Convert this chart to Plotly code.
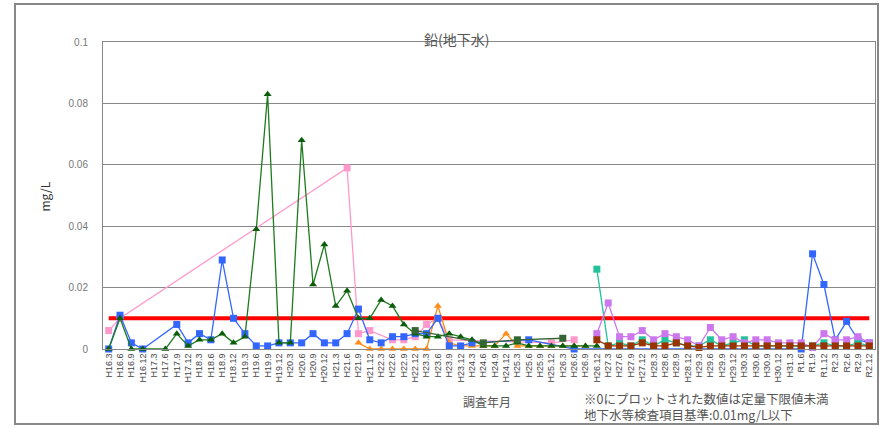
import plotly.graph_objects as go

# ---- categories (quarterly survey months) ----
months = []
for y in range(16, 31):
    for m in (3, 6, 9, 12):
        months.append(f"H{y}.{m}")
months.append("H31.3")
months += ["R1.6", "R1.9", "R1.12", "R2.3", "R2.6", "R2.9", "R2.12"]
N = len(months)

N_ = None
# ---- series values (mg/L) ----
green_tri = [0, 0.010, 0, 0, N_, 0, 0.005, 0.001, 0.003, 0.003,
             0.005, 0.002, 0.004, 0.039, 0.083, 0.002, 0.002, 0.068, 0.021, 0.034,
             0.014, 0.019, 0.010, 0.010, 0.016, 0.014, 0.008, 0.005, 0.004, 0.004,
             0.005, 0.004, 0.003, 0.001, 0.001, 0.001, 0.002, 0.001, 0.001, 0.001,
             0.001, 0.001, 0.001, 0.001] + [N_] * 24

blue_sq = [0, 0.011, 0.002, 0, N_, N_, 0.008, 0.002, 0.005, 0.003,
           0.029, 0.010, 0.005, 0.001, 0.001, 0.002, 0.002, 0.002, 0.005, 0.002,
           0.002, 0.005, 0.013, 0.003, 0.002, 0.004, 0.004, 0.005, 0.005, 0.010,
           0.001, 0.001, 0.002, N_, N_, N_, N_, 0.003, N_, N_,
           N_, 0, N_, N_, N_, N_, N_, N_, N_, N_,
           N_, N_, N_, N_, N_, N_, N_, N_, N_, N_,
           N_, 0, 0.031, 0.021, 0.003, 0.009, 0.003, 0.002]

pink_sq = [0.006, 0.010] + [N_] * 19 + [0.059, 0.005, 0.006, N_, 0.003, 0.003, 0.004, 0.008, 0.010,
           0.003, N_, N_, N_, N_, N_, N_, N_, N_, 0.002,
           N_, 0.003] + [N_] * 26

orange_tri = [N_] * 22 + [0.002, 0, 0, 0, 0, 0, 0, 0.014,
              0.002, 0.001, 0.001, 0.001, 0.001, 0.005, 0.001, 0.001, 0.001, 0.001,
              0.001, 0.001, 0.001] + [N_] * 25

teal_sq = [N_] * 43 + [0.026, 0.001, 0.002, 0.001, 0.003, 0.001, 0.003,
           0.002, 0.001, 0.001, 0.003, 0.001, 0.002, 0.003, 0.001, 0.001, 0.001,
           0.001, 0.001, 0.001, 0.002, 0.001, 0.001, 0.002, 0.001]

violet_sq = [N_] * 43 + [0.005, 0.015, 0.004, 0.004, 0.006, 0.003, 0.005,
             0.004, 0.003, 0.001, 0.007, 0.003, 0.004, 0.002, 0.003, 0.003, 0.002,
             0.002, 0.002, 0.0005, 0.005, 0.003, 0.003, 0.004, 0.002]

darkred_sq = [N_] * 43 + [0.003, 0.001, 0.001, 0.001, 0.002, 0.001, 0.001,
              0.002, 0.001, 0.0005, 0.001, 0.001, 0.001, 0.001, 0.001, 0.001, 0.001,
              0.001, 0.001, 0.001, 0.001, 0.001, 0.001, 0.001, 0.001]

darkgreen_sq = [N_] * 27 + [0.006] + [N_] * 5 + [0.002, N_, N_, 0.003, N_, N_, N_, 0.0035] + [N_] * 27

standard = [0.01] * N

series = [
    (pink_sq, "#FF99CC", "square", "#FF99CC"),
    (orange_tri, "#FF8C1A", "triangle-up", "#FF8C1A"),
    (blue_sq, "#3366FF", "square", "#3366FF"),
    (green_tri, "#0B5D0B", "triangle-up", "#1E7B1E"),
    (darkgreen_sq, "#336633", "square", "#336633"),
    (teal_sq, "#22C39A", "square", "#22C39A"),
    (violet_sq, "#CC77EE", "square", "#CC77EE"),
    (darkred_sq, "#993300", "square", "#993300"),
]

fig = go.Figure()
fig.add_trace(go.Scatter(x=months, y=standard, mode="lines",
                         line=dict(color="#FF0000", width=4), hoverinfo="skip"))
for vals, mcol, sym, lcol in series:
    fig.add_trace(go.Scatter(
        x=months, y=vals, mode="lines+markers", connectgaps=True, cliponaxis=False,
        line=dict(color=lcol, width=1.3),
        marker=dict(symbol=sym, size=7, color=mcol),
    ))

L, R, T, B = 103, 875, 42, 349

def px2px(xp):
    return (xp - L) / (R - L)

def py2py(yp):
    return (B - yp) / (B - T)

txt = "#555555"
fig.update_layout(
    width=880, height=428,
    margin=dict(l=L, r=880 - R, t=T, b=428 - B),
    paper_bgcolor="white", plot_bgcolor="white",
    showlegend=False,
    font=dict(family="Noto Sans CJK JP, Liberation Sans", color=txt),
    xaxis=dict(type="category", tickmode="array", tickvals=months, ticktext=months,
               range=[-0.5, N - 0.5],
               tickangle=-90, tickfont=dict(size=9, family="Liberation Sans", color="#444"),
               showgrid=False, showline=True, linecolor="#888", mirror=True, zeroline=False,
               ticks=""),
    yaxis=dict(range=[0, 0.1], dtick=0.02, showgrid=True, gridcolor="#888", gridwidth=1,
               showline=True, linecolor="#888", mirror=True, zeroline=False,
               tickfont=dict(size=10, family="Liberation Sans", color="#777"),
               ticklabelstandoff=12, ticks=""),
    shapes=[dict(type="rect", xref="paper", yref="paper",
                 x0=px2px(15), x1=px2px(878), y0=py2py(424), y1=py2py(4),
                 line=dict(color="#888", width=2))],
    annotations=[
        dict(text="鉛(地下水)", xref="paper", yref="paper", x=px2px(456), y=py2py(27),
             showarrow=False, font=dict(size=14, color=txt)),
        dict(text="mg/L", xref="paper", yref="paper", x=px2px(33), y=py2py(197),
             textangle=-90, showarrow=False, font=dict(size=12, color="#333")),
        dict(text="調査年月", xref="paper", yref="paper", x=px2px(487), y=py2py(412),
             showarrow=False, font=dict(size=12, color=txt)),
        dict(text="※0にプロットされた数値は定量下限値未満<br>地下水等検査項目基準:0.01mg/L以下",
             xref="paper", yref="paper", align="left",
             x=px2px(583), y=py2py(406), xanchor="left", yanchor="middle",
             showarrow=False, borderpad=0,
             font=dict(size=12.5, color=txt)),
    ],
)

fig.write_html("out.html", config={"displayModeBar": False},
               post_script="document.body.style.margin='0';")
